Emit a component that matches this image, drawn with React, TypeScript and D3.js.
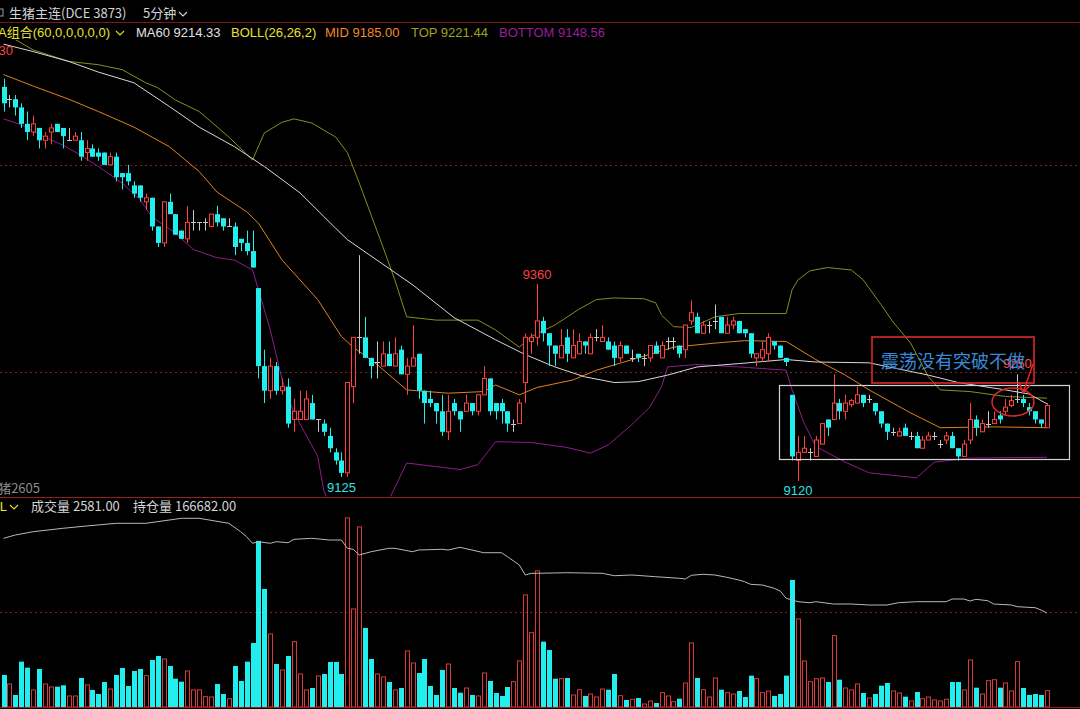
import React from 'react';
import * as d3 from 'd3';

// ---- Candles (5-minute bars) ----
const opens = [
  9600, 9585, 9585, 9575, 9555, 9545, 9550, 9535, 9545, 9555,
  9550, 9535, 9535, 9535, 9520, 9525, 9520, 9520, 9505, 9515,
  9495, 9495, 9480, 9480, 9460, 9465, 9430, 9410, 9460, 9445,
  9425, 9415, 9435, 9435, 9435, 9430, 9445, 9440, 9430, 9430,
  9415, 9410, 9400, 9355, 9260, 9230, 9260, 9230, 9235, 9195,
  9195, 9195, 9215, 9195, 9190, 9175, 9155, 9145, 9130, 9235,
  9295, 9295, 9270, 9265, 9260, 9275, 9260, 9280, 9250, 9260,
  9275, 9230, 9220, 9215, 9205, 9180, 9215, 9205, 9205, 9215,
  9205, 9225, 9245, 9215, 9215, 9205, 9190, 9190, 9240, 9290,
  9295, 9315, 9300, 9285, 9270, 9295, 9270, 9275, 9290, 9275,
  9295, 9290, 9290, 9285, 9270, 9285, 9270, 9275, 9270, 9270,
  9285, 9270, 9290, 9290, 9285, 9280, 9315, 9320, 9300, 9310,
  9315, 9320, 9300, 9310, 9315, 9305, 9300, 9270, 9270, 9275,
  9290, 9285, 9270, 9225, 9145, 9155, 9155, 9150, 9165, 9195,
  9195, 9215, 9205, 9213, 9215, 9225, 9220, 9215, 9205, 9190,
  9180, 9175, 9185, 9175, 9175, 9160, 9170, 9175, 9165, 9170,
  9175, 9160, 9150, 9170, 9195, 9180, 9190, 9190, 9200, 9205,
  9212, 9220, 9220, 9210, 9205, 9195, 9185,
];
const highs = [
  9610, 9590, 9590, 9580, 9570, 9565, 9550, 9545, 9555, 9555,
  9550, 9550, 9545, 9545, 9535, 9530, 9525, 9520, 9520, 9520,
  9495, 9505, 9485, 9480, 9470, 9465, 9430, 9460, 9470, 9445,
  9425, 9455, 9450, 9435, 9440, 9445, 9455, 9440, 9440, 9435,
  9415, 9425, 9425, 9355, 9280, 9270, 9265, 9245, 9245, 9220,
  9230, 9230, 9225, 9195, 9195, 9185, 9160, 9155, 9240, 9295,
  9395, 9320, 9270, 9290, 9290, 9290, 9295, 9285, 9270, 9310,
  9275, 9230, 9230, 9215, 9225, 9225, 9220, 9205, 9225, 9215,
  9225, 9260, 9245, 9215, 9220, 9205, 9195, 9220, 9300, 9300,
  9360, 9320, 9300, 9285, 9305, 9305, 9305, 9300, 9290, 9300,
  9305, 9310, 9295, 9290, 9290, 9285, 9280, 9275, 9275, 9285,
  9290, 9290, 9295, 9295, 9285, 9310, 9340, 9325, 9315, 9315,
  9335, 9320, 9320, 9320, 9315, 9305, 9300, 9275, 9290, 9300,
  9290, 9285, 9270, 9225, 9175, 9175, 9160, 9175, 9190, 9195,
  9250, 9220, 9225, 9220, 9235, 9225, 9225, 9215, 9205, 9190,
  9185, 9185, 9190, 9180, 9180, 9175, 9180, 9180, 9170, 9180,
  9180, 9160, 9170, 9215, 9200, 9195, 9205, 9205, 9205, 9220,
  9225, 9250, 9225, 9215, 9205, 9195, 9215,
];
const lows = [
  9570, 9575, 9565, 9550, 9535, 9540, 9525, 9525, 9530, 9545,
  9525, 9535, 9535, 9510, 9510, 9515, 9510, 9505, 9505, 9485,
  9475, 9480, 9465, 9460, 9450, 9425, 9405, 9405, 9445, 9420,
  9415, 9410, 9425, 9425, 9425, 9430, 9430, 9425, 9430, 9395,
  9400, 9395, 9380, 9245, 9215, 9220, 9225, 9225, 9185, 9180,
  9195, 9195, 9195, 9180, 9175, 9155, 9140, 9125, 9125, 9215,
  9275, 9270, 9245, 9245, 9260, 9260, 9260, 9250, 9225, 9260,
  9220, 9190, 9210, 9190, 9175, 9170, 9200, 9180, 9205, 9200,
  9200, 9225, 9200, 9195, 9190, 9180, 9180, 9190, 9215, 9275,
  9285, 9290, 9260, 9260, 9270, 9265, 9270, 9275, 9275, 9275,
  9290, 9290, 9280, 9260, 9265, 9275, 9265, 9265, 9260, 9265,
  9275, 9270, 9280, 9280, 9270, 9270, 9310, 9300, 9300, 9300,
  9305, 9300, 9300, 9305, 9300, 9295, 9270, 9260, 9265, 9265,
  9280, 9270, 9260, 9145, 9120, 9155, 9145, 9150, 9165, 9175,
  9195, 9195, 9195, 9210, 9215, 9210, 9215, 9200, 9185, 9170,
  9175, 9175, 9175, 9170, 9160, 9160, 9170, 9170, 9160, 9165,
  9160, 9145, 9150, 9165, 9175, 9180, 9185, 9190, 9190, 9200,
  9210, 9215, 9210, 9200, 9190, 9185, 9185,
];
const closes = [
  9580, 9585, 9575, 9555, 9545, 9555, 9535, 9540, 9550, 9545,
  9540, 9535, 9540, 9515, 9525, 9515, 9515, 9505, 9515, 9490,
  9490, 9485, 9470, 9465, 9465, 9430, 9410, 9460, 9445, 9420,
  9415, 9435, 9435, 9435, 9435, 9445, 9435, 9430, 9430, 9405,
  9410, 9400, 9380, 9260, 9230, 9260, 9230, 9235, 9190, 9205,
  9205, 9220, 9195, 9195, 9180, 9160, 9145, 9130, 9240, 9295,
  9295, 9270, 9260, 9265, 9275, 9260, 9275, 9250, 9260, 9270,
  9230, 9215, 9215, 9205, 9180, 9205, 9205, 9195, 9215, 9205,
  9225, 9245, 9205, 9205, 9205, 9190, 9190, 9215, 9295, 9295,
  9315, 9300, 9285, 9275, 9285, 9275, 9285, 9290, 9285, 9295,
  9295, 9295, 9280, 9270, 9285, 9275, 9270, 9270, 9270, 9285,
  9275, 9285, 9290, 9290, 9275, 9310, 9325, 9300, 9310, 9310,
  9315, 9300, 9310, 9315, 9300, 9300, 9275, 9275, 9280, 9295,
  9285, 9270, 9265, 9150, 9155, 9160, 9155, 9170, 9190, 9185,
  9215, 9205, 9215, 9218, 9225, 9215, 9220, 9205, 9190, 9180,
  9180, 9180, 9175, 9175, 9160, 9170, 9175, 9175, 9165, 9175,
  9160, 9150, 9165, 9195, 9185, 9190, 9190, 9195, 9195, 9210,
  9218, 9220, 9215, 9205, 9195, 9190, 9212,
];
const volumes = [
  5060, 3630, 1900, 7160, 6210, 2690, 6000, 3630, 3160, 3210,
  3430, 1740, 1740, 4580, 3480, 2690, 2050, 3950, 2840, 5060,
  6160, 3320, 5690, 6000, 4950, 7430, 8060, 7580, 6480, 4470,
  4000, 5690, 2690, 2690, 1630, 1580, 3630, 2050, 1310, 6480,
  4110, 7160, 10110, 26230, 18640, 11530, 6790, 5850, 8060, 10320,
  5210, 2690, 3000, 4900, 5210, 7110, 7110, 5210, 29860, 15480,
  28440, 12480, 7580, 5210, 4740, 3950, 2690, 3000, 8850, 6950,
  5370, 7580, 3320, 1900, 5850, 6790, 3000, 2260, 3000, 1900,
  1740, 5370, 4110, 2210, 1740, 3160, 4000, 7270, 17700, 11740,
  21490, 10320, 9010, 4470, 4470, 4580, 1900, 2730, 1740, 2050,
  1580, 2840, 2730, 5210, 1790, 1110, 1220, 1420, 470, 950,
  630, 2260, 1740, 840, 1310, 3790, 10110, 4580, 2730, 1580,
  4580, 2730, 2260, 2050, 2530, 1580, 4950, 4470, 2260, 2530,
  1740, 2050, 4950, 20070, 13900, 7270, 4000, 4470, 4580, 3950,
  11270, 4310, 3000, 2690, 3630, 2210, 1420, 2050, 3370, 3790,
  2530, 2210, 1630, 950, 2370, 1310, 1580, 1110, 950, 1220,
  3950, 3950, 2690, 7430, 3050, 2050, 4160, 4310, 3050, 3790,
  2530, 7160, 3000, 1900, 2050, 1900, 2581,
];

// ---- Indicator lines, read at their vertices (bar index, value) ----
const ma60Idx = [0, 5, 11, 16, 22, 28, 33, 39, 44, 50, 56, 58, 66, 69, 76, 83, 88, 93, 98, 103, 107, 112, 117, 124, 132, 137, 146, 156, 161, 169, 173, 176];
const ma60Val = [9652, 9643, 9631, 9618, 9605, 9576, 9551, 9527, 9503, 9471, 9428, 9414, 9374, 9359, 9319, 9292, 9274, 9259, 9247, 9240, 9241, 9249, 9259, 9263, 9268, 9265, 9264, 9249, 9240, 9231, 9226, 9214];

const midIdx = [0, 5, 11, 16, 22, 28, 33, 36, 41, 43, 47, 53, 57, 59, 63, 68, 75, 81, 83, 87, 90, 96, 100, 107, 113, 120, 125, 132, 137, 142, 146, 153, 158, 167, 176];
const midVal = [9615, 9601, 9585, 9570, 9551, 9527, 9497, 9472, 9448, 9434, 9389, 9341, 9296, 9283, 9262, 9231, 9227, 9229, 9237, 9225, 9234, 9243, 9255, 9270, 9283, 9288, 9291, 9290, 9268, 9249, 9231, 9203, 9185, 9186, 9185];

const topIdx = [0, 5, 11, 16, 20, 24, 26, 29, 33, 38, 42, 44, 47, 49, 52, 56, 58, 60, 64, 66, 68, 73, 80, 83, 87, 89, 93, 97, 100, 103, 108, 110, 111, 113, 116, 120, 124, 132, 133, 134, 136, 139, 143, 145, 148, 150, 153, 156, 158, 163, 169, 176];
const topVal = [9666, 9645, 9631, 9627, 9621, 9605, 9599, 9584, 9570, 9539, 9511, 9544, 9557, 9561, 9556, 9539, 9520, 9483, 9405, 9365, 9320, 9316, 9316, 9304, 9283, 9296, 9310, 9329, 9341, 9343, 9342, 9337, 9322, 9308, 9307, 9320, 9324, 9324, 9353, 9365, 9376, 9380, 9377, 9365, 9335, 9314, 9288, 9247, 9231, 9229, 9223, 9221];

const botIdx = [0, 3, 6, 10, 13, 16, 20, 23, 25, 29, 32, 36, 39, 41, 42, 43, 45, 47, 49, 53, 54, 56, 60, 65, 68, 77, 80, 83, 89, 95, 99, 102, 106, 109, 111, 112, 117, 124, 132, 133, 135, 137, 142, 146, 154, 157, 163, 176];
const botVal = [9561, 9554, 9542, 9529, 9517, 9503, 9483, 9463, 9442, 9422, 9402, 9392, 9389, 9381, 9377, 9353, 9304, 9243, 9203, 9150, 9109, 9073, 9030, 9097, 9142, 9134, 9140, 9168, 9167, 9161, 9154, 9164, 9189, 9210, 9235, 9259, 9262, 9259, 9255, 9231, 9191, 9162, 9143, 9130, 9124, 9143, 9148, 9149];

const oiIdx = [0, 2, 5, 10, 14, 19, 24, 30, 33, 38, 40, 41, 42, 43, 45, 46, 48, 49, 52, 55, 57, 58, 59, 60, 62, 65, 66, 69, 70, 74, 75, 77, 81, 84, 85, 87, 88, 89, 90, 95, 101, 103, 106, 110, 114, 115, 116, 118, 120, 122, 124, 125, 126, 128, 130, 131, 132, 134, 136, 137, 140, 143, 146, 149, 151, 154, 159, 160, 162, 163, 164, 166, 167, 170, 171, 174, 175, 176];
const oiVal = [182242, 182929, 183617, 184325, 184804, 185367, 185367, 186408, 186408, 185367, 183617, 182576, 181201, 181534, 181201, 181534, 181325, 182034, 182242, 181888, 181888, 180159, 179951, 178763, 179451, 180159, 180159, 179451, 179805, 179951, 179805, 180367, 179242, 179242, 178409, 176680, 174597, 174952, 174952, 175076, 174952, 174452, 174597, 174243, 173910, 173764, 174535, 174743, 174597, 174118, 173556, 173202, 172660, 172514, 171827, 171265, 169744, 169036, 168827, 169036, 168557, 168557, 168348, 168348, 168827, 169036, 169036, 169598, 169598, 169182, 169536, 169244, 168557, 168348, 167994, 167786, 167307, 166682];

// ---- Texts ----
const titleText = '生猪主连(DCE 3873)';
const periodText = '5分钟';
const legendItems = [
  { text: 'A组合(60,0,0,0,0,0)', color: '#e8e030', x: -2 },
  { text: 'MA60 9214.33', color: '#e0e0e0', x: 136 },
  { text: 'BOLL(26,26,2)', color: '#e8e030', x: 231 },
  { text: 'MID 9185.00', color: '#f08a24', x: 325 },
  { text: 'TOP 9221.44', color: '#a0a020', x: 411 },
  { text: 'BOTTOM 9148.56', color: '#9a1e9a', x: 499 },
];
const volLegend = [
  { text: '成交量 2581.00', x: 31 },
  { text: '持仓量 166682.00', x: 133 },
];
const noteText = '震荡没有突破不做';
const gridPrices = [9505, 9253];
const gridVolume = [15000];

const FONT = "'Liberation Sans','Noto Sans CJK SC',sans-serif";
const CJK = "'Noto Sans CJK SC','Liberation Sans',sans-serif";

export default function App() {
  const n = opens.length;
  const x = d3.scaleLinear().domain([0, n - 1]).range([3.5, 1047]);
  const yP = d3.scaleLinear().domain([9100, 9660]).range([497.5, 37.6]);
  const yV = d3.scaleLinear().domain([0, 33000]).range([707, 498]);
  const yOI = d3.scaleLinear().domain([166682, 186682]).range([613, 517]);

  const RED = '#ff4040';
  const VRED = '#d83a3a';
  const CYAN = '#22eeee';
  const DOJI = '#c8c8c8';

  const mkLine = (idx: number[], vals: number[], ys: (v: number) => number) =>
    d3.line<number>().x((_, k) => x(idx[k])).y((v) => ys(v))(vals) || '';

  const candles = opens.map((o, i) => {
    const c = closes[i];
    const h = highs[i];
    const l = lows[i];
    const cx = Math.round(x(i)) + 0.5;
    const up = c > o;
    const down = c < o;
    const color = up ? RED : down ? CYAN : DOJI;
    const yTop = yP(Math.max(o, c));
    const yBot = yP(Math.min(o, c));
    return (
      <g key={'c' + i}>
        <line x1={cx} x2={cx} y1={yP(h)} y2={yP(l)} stroke={color} strokeWidth={1} />
        {up && (
          <rect x={cx - 2} y={yTop} width={4} height={Math.max(1, yBot - yTop)} fill="#000" stroke={color} strokeWidth={1} />
        )}
        {down && (
          <rect x={cx - 2.5} y={yTop} width={5} height={Math.max(1, yBot - yTop)} fill={color} />
        )}
        {!up && !down && (
          <line x1={cx - 2.5} x2={cx + 2.5} y1={Math.round(yTop) + 0.5} y2={Math.round(yTop) + 0.5} stroke={color} strokeWidth={1} />
        )}
      </g>
    );
  });

  const volBars = volumes.map((v, i) => {
    const cx = Math.round(x(i)) + 0.5;
    const up = closes[i] >= opens[i];
    const top = yV(v);
    return up ? (
      <rect key={'v' + i} x={cx - 2} y={top} width={4} height={707 - top} fill="none" stroke={VRED} strokeWidth={1} />
    ) : (
      <rect key={'v' + i} x={cx - 2.5} y={top} width={5} height={707 - top} fill={CYAN} />
    );
  });

  const chevron = (cx: number, cy: number, color: string) => (
    <path d={`M${cx - 4},${cy - 2} L${cx},${cy + 2} L${cx + 4},${cy - 2}`} fill="none" stroke={color} strokeWidth={1.1} />
  );

  return (
    <div style={{ position: 'fixed', left: 0, top: 0, width: 1080, height: 709, background: '#000' }}>
      <svg width={1080} height={709} style={{ display: 'block', background: '#000' }}>
        <defs>
          <clipPath id="pricePanel">
            <rect x={0} y={40} width={1080} height={456.5} />
          </clipPath>
          <clipPath id="volPanel">
            <rect x={0} y={498} width={1080} height={209} />
          </clipPath>
        </defs>

        {/* header */}
        <rect x={-3} y={9} width={6} height={7} fill="none" stroke="#a0a0a0" strokeWidth={1} />
        <text x={9} y={18} fill="#d4d4d4" fontSize={13} fontFamily={CJK}>{titleText}</text>
        <text x={143} y={18} fill="#d4d4d4" fontSize={13} fontFamily={CJK}>{periodText}</text>
        {chevron(183, 14, '#d4d4d4')}
        <line x1={0} x2={1080} y1={22.5} y2={22.5} stroke="#7a1616" strokeWidth={1} />
        {legendItems.map((d, k) => (
          <text key={'lg' + k} x={d.x} y={37} fill={d.color} fontSize={13} fontFamily={FONT}>{d.text}</text>
        ))}
        {chevron(120, 33, '#e8e030')}

        {/* price panel grid */}
        {gridPrices.map((p, k) => (
          <line key={'gp' + k} x1={0} x2={1080} y1={Math.round(yP(p)) + 0.5} y2={Math.round(yP(p)) + 0.5} stroke="#8a1c1c" strokeWidth={1} strokeDasharray="2,3" />
        ))}

        <g clipPath="url(#pricePanel)">
          <path d={mkLine(topIdx, topVal, yP)} fill="none" stroke="#8c8c22" strokeWidth={1} />
          <path d={mkLine(botIdx, botVal, yP)} fill="none" stroke="#8c1e8c" strokeWidth={1} />
          <path d={mkLine(midIdx, midVal, yP)} fill="none" stroke="#e0821e" strokeWidth={1} />
          <path d={mkLine(ma60Idx, ma60Val, yP)} fill="none" stroke="#d8d8d8" strokeWidth={1} />
          {candles}
        </g>

        {/* high / low labels */}
        <text x={13} y={55} fill="#ff4040" fontSize={13} textAnchor="end" fontFamily={FONT}>9630</text>
        <text x={x(90)} y={279} fill="#ff4040" fontSize={13} textAnchor="middle" fontFamily={FONT}>9360</text>
        <text x={x(57)} y={492} fill="#33e0e0" fontSize={13} textAnchor="middle" fontFamily={FONT}>9125</text>
        <text x={x(134)} y={495} fill="#33e0e0" fontSize={13} textAnchor="middle" fontFamily={FONT}>9120</text>
        <text x={x(171)} y={368} fill="#ff5050" fontSize={13} textAnchor="middle" fontFamily={FONT}>9250</text>
        <text x={40} y={493} fill="#8c8c8c" fontSize={13} textAnchor="end" fontFamily={CJK}>生猪2605</text>

        {/* annotations */}
        <rect x={779.5} y={385.5} width={290} height={74} fill="none" stroke="#d4d4d4" strokeWidth={1.2} />
        <rect x={872} y={337} width={162} height={46} fill="none" stroke="#e02828" strokeWidth={1.6} />
        <text x={881} y={368} fill="#3a8ad8" fontSize={18} fontFamily={CJK}>{noteText}</text>
        <ellipse cx={1013} cy={402} rx={21} ry={14} fill="none" stroke="#e02828" strokeWidth={1.5} />
        <path d="M1033,364 L1023,393 M1023,393 L1019,382 M1023,393 L1030,385" fill="none" stroke="#e02828" strokeWidth={1.5} />

        {/* panel separator */}
        <line x1={0} x2={1080} y1={497.5} y2={497.5} stroke="#9a1c1c" strokeWidth={1} />

        {/* volume panel */}
        <text x={7} y={511} fill="#e8e030" fontSize={13} textAnchor="end" fontFamily={FONT}>VOL</text>
        {chevron(14, 507, '#e8e030')}
        {volLegend.map((d, k) => (
          <text key={'vl' + k} x={d.x} y={511} fill="#d4d4d4" fontSize={13} fontFamily={CJK}>{d.text}</text>
        ))}
        {gridVolume.map((v, k) => (
          <line key={'gv' + k} x1={0} x2={1080} y1={Math.round(yV(v)) + 0.5} y2={Math.round(yV(v)) + 0.5} stroke="#8a1c1c" strokeWidth={1} strokeDasharray="2,3" />
        ))}
        <g clipPath="url(#volPanel)">
          {volBars}
          <path d={mkLine(oiIdx, oiVal, yOI)} fill="none" stroke="#b8b8b8" strokeWidth={1} />
        </g>
        <line x1={0} x2={1080} y1={707.5} y2={707.5} stroke="#9a1c1c" strokeWidth={1} />
      </svg>
    </div>
  );
}
